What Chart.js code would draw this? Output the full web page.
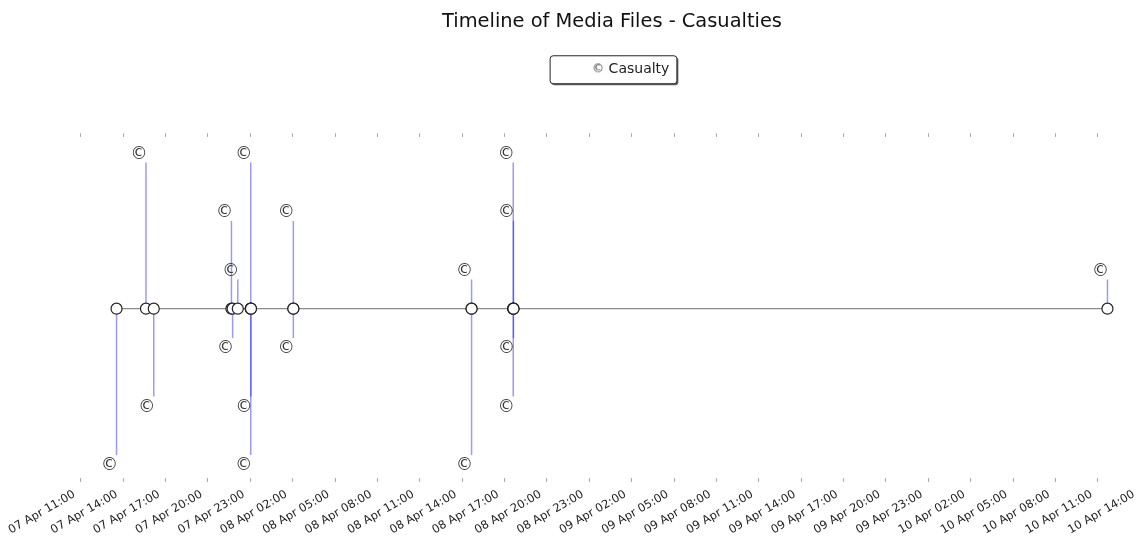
<!DOCTYPE html>
<html>
<head>
<meta charset="utf-8">
<title>Timeline of Media Files - Casualties</title>
<script src="https://cdn.jsdelivr.net/npm/chart.js@4.4.1/dist/chart.umd.min.js"></script>
<style>
  html, body { margin: 0; padding: 0; overflow: hidden; background: #fff; }
  #wrap { width: 1223px; height: 541px; }
</style>
</head>
<body>
<div id="wrap"><canvas id="chart" width="1223" height="541"></canvas></div>
<script>
// event times (day month hh:mm)
const eventTimes = [
    '07 Apr 13:32', '07 Apr 15:37', '07 Apr 16:10', '07 Apr 21:40', '07 Apr 21:45', '07 Apr 22:07',
    '07 Apr 23:02', '07 Apr 23:02', '07 Apr 23:03', '08 Apr 02:03', '08 Apr 02:03', '08 Apr 14:40',
    '08 Apr 14:40', '08 Apr 17:37', '08 Apr 17:37', '08 Apr 17:38', '08 Apr 17:38', '10 Apr 11:41'
];
const eventLevels = [-5, 5, -3, 3, -1, 1, -5, 5, -3, 3, -1, 1, -5, 5, -3, 3, -1, 1];
const seriesLabel = 'Casualty';

const tickLabels = [
    '07 Apr 11:00', '07 Apr 14:00', '07 Apr 17:00', '07 Apr 20:00', '07 Apr 23:00',
    '08 Apr 02:00', '08 Apr 05:00', '08 Apr 08:00', '08 Apr 11:00', '08 Apr 14:00',
    '08 Apr 17:00', '08 Apr 20:00', '08 Apr 23:00', '09 Apr 02:00', '09 Apr 05:00',
    '09 Apr 08:00', '09 Apr 11:00', '09 Apr 14:00', '09 Apr 17:00', '09 Apr 20:00',
    '09 Apr 23:00', '10 Apr 02:00', '10 Apr 05:00', '10 Apr 08:00', '10 Apr 11:00',
    '10 Apr 14:00'
];

// hours since 07 Apr 00:00
function toHours(s) {
    const parts = s.split(' ');
    const hm = parts[2].split(':');
    return (Number(parts[0]) - 7) * 24 + Number(hm[0]) + Number(hm[1]) / 60;
}

const eventHours = eventTimes.map(toHours);
const tickHours = tickLabels.map(toHours);

const first = Math.min(...eventHours);
const last = Math.max(...eventHours);
const margin = (last - first) * 0.05;

const FONT = 'DejaVu Sans';

// legend handle: a copyright sign, drawn to the right of its box
const handle = document.createElement('canvas');
handle.width = 60;
handle.height = 16;
(function () {
    const c = handle.getContext('2d');
    c.font = '12px ' + FONT;
    c.fillStyle = '#333';
    c.textAlign = 'center';
    c.textBaseline = 'middle';
    c.fillText('\u00A9', 50, 8);
})();

const stemSets = eventHours.map((h, i) => ({
    type: 'line',
    label: 'stem',
    data: [{ x: h, y: 0 }, { x: h, y: eventLevels[i] }],
    borderColor: 'rgba(0, 0, 255, 0.4)',
    borderWidth: 1.5,
    pointRadius: 0,
    order: 5
}));

const baseline = {
    type: 'line',
    label: 'baseline',
    data: eventHours.map(h => ({ x: h, y: 0 })),
    borderColor: '#8a8a8a',
    borderWidth: 1.2,
    pointRadius: 5.5,
    pointBackgroundColor: '#fff',
    pointBorderColor: '#222',
    pointBorderWidth: 1.2,
    tension: 0,
    order: 0
};

const markers = {
    type: 'scatter',
    label: seriesLabel,
    data: eventHours.map((h, i) => ({ x: h, y: eventLevels[i] })),
    pointRadius: 0,
    pointStyle: handle,
    showLine: false,
    order: 1
};

const markerPlugin = {
    id: 'copyMarks',
    afterDatasetsDraw(chart) {
        const idx = chart.data.datasets.indexOf(markers);
        const meta = chart.getDatasetMeta(idx);
        const ctx = chart.ctx;
        ctx.save();
        ctx.font = '17px ' + FONT;
        ctx.fillStyle = '#3a3a3a';
        ctx.textAlign = 'center';
        ctx.textBaseline = 'middle';
        meta.data.forEach((pt, i) => {
            const up = eventLevels[i] > 0;
            ctx.fillText('\u00A9', pt.x - 7, pt.y + (up ? -8 : 11));
        });
        ctx.restore();
    }
};

const legendFrame = {
    id: 'legendFrame',
    beforeDraw(chart) {
        const hb = chart.legend.legendHitBoxes[0];
        if (!hb) return;
        const ctx = chart.ctx;
        const x0 = hb.left - 5, x1 = hb.left + hb.width + 7;
        const cy = hb.top + hb.height / 2;
        const y0 = cy - 14, y1 = cy + 14;
        ctx.save();
        ctx.fillStyle = '#666';
        ctx.beginPath();
        ctx.roundRect(x0 + 2, y0 + 2, x1 - x0, y1 - y0, 3);
        ctx.fill();
        ctx.fillStyle = '#fff';
        ctx.strokeStyle = '#222';
        ctx.lineWidth = 1;
        ctx.beginPath();
        ctx.roundRect(x0 + 0.5, y0 + 0.5, x1 - x0, y1 - y0, 3);
        ctx.fill();
        ctx.stroke();
        ctx.restore();
    }
};

const setTicks = scale => { scale.ticks = tickHours.map(v => ({ value: v })); };

new Chart(document.getElementById('chart'), {
    type: 'line',
    data: { datasets: [baseline, markers].concat(stemSets) },
    plugins: [markerPlugin, legendFrame],
    options: {
        responsive: false,
        animation: false,
        events: [],
        layout: { padding: { left: 67, right: 66, top: 0, bottom: 0 } },
        plugins: {
            title: {
                display: true,
                text: 'Timeline of Media Files - Casualties',
                color: '#111',
                font: { family: FONT, size: 19.4, weight: 'normal' },
                padding: { top: 10, bottom: 19 }
            },
            legend: {
                display: true,
                labels: {
                    filter: item => item.text === seriesLabel,
                    usePointStyle: true,
                    pointStyleWidth: 47,
                    color: '#222',
                    font: { family: FONT, size: 14 }
                }
            },
            tooltip: { enabled: false }
        },
        scales: {
            x: {
                type: 'linear',
                position: 'bottom',
                min: first - margin,
                max: last + margin,
                offset: false,
                afterBuildTicks: setTicks,
                afterFit: s => { s.height = 63; s.paddingLeft = 0; s.paddingRight = 0; },
                border: { display: false },
                grid: { drawOnChartArea: false, drawTicks: true, tickLength: 4, color: '#aaa', offset: false },
                ticks: {
                    autoSkip: false,
                    minRotation: 30,
                    maxRotation: 30,
                    padding: 2,
                    color: '#222',
                    font: { family: FONT, size: 11.5 },
                    // trailing spaces pull the rotated label back from its tick
                    callback: (v, i) => tickLabels[i] + '  '
                }
            },
            x2: {
                type: 'linear',
                position: 'top',
                min: first - margin,
                max: last + margin,
                offset: false,
                afterBuildTicks: setTicks,
                afterFit: s => { s.height = 51; s.paddingLeft = 0; s.paddingRight = 0; },
                border: { display: false },
                grid: { drawOnChartArea: false, drawTicks: true, tickLength: 4, color: '#aaa', offset: false },
                ticks: { display: false }
            },
            y: {
                display: false,
                min: -5.79,
                max: 5.86
            }
        }
    }
});
</script>
</body>
</html>
